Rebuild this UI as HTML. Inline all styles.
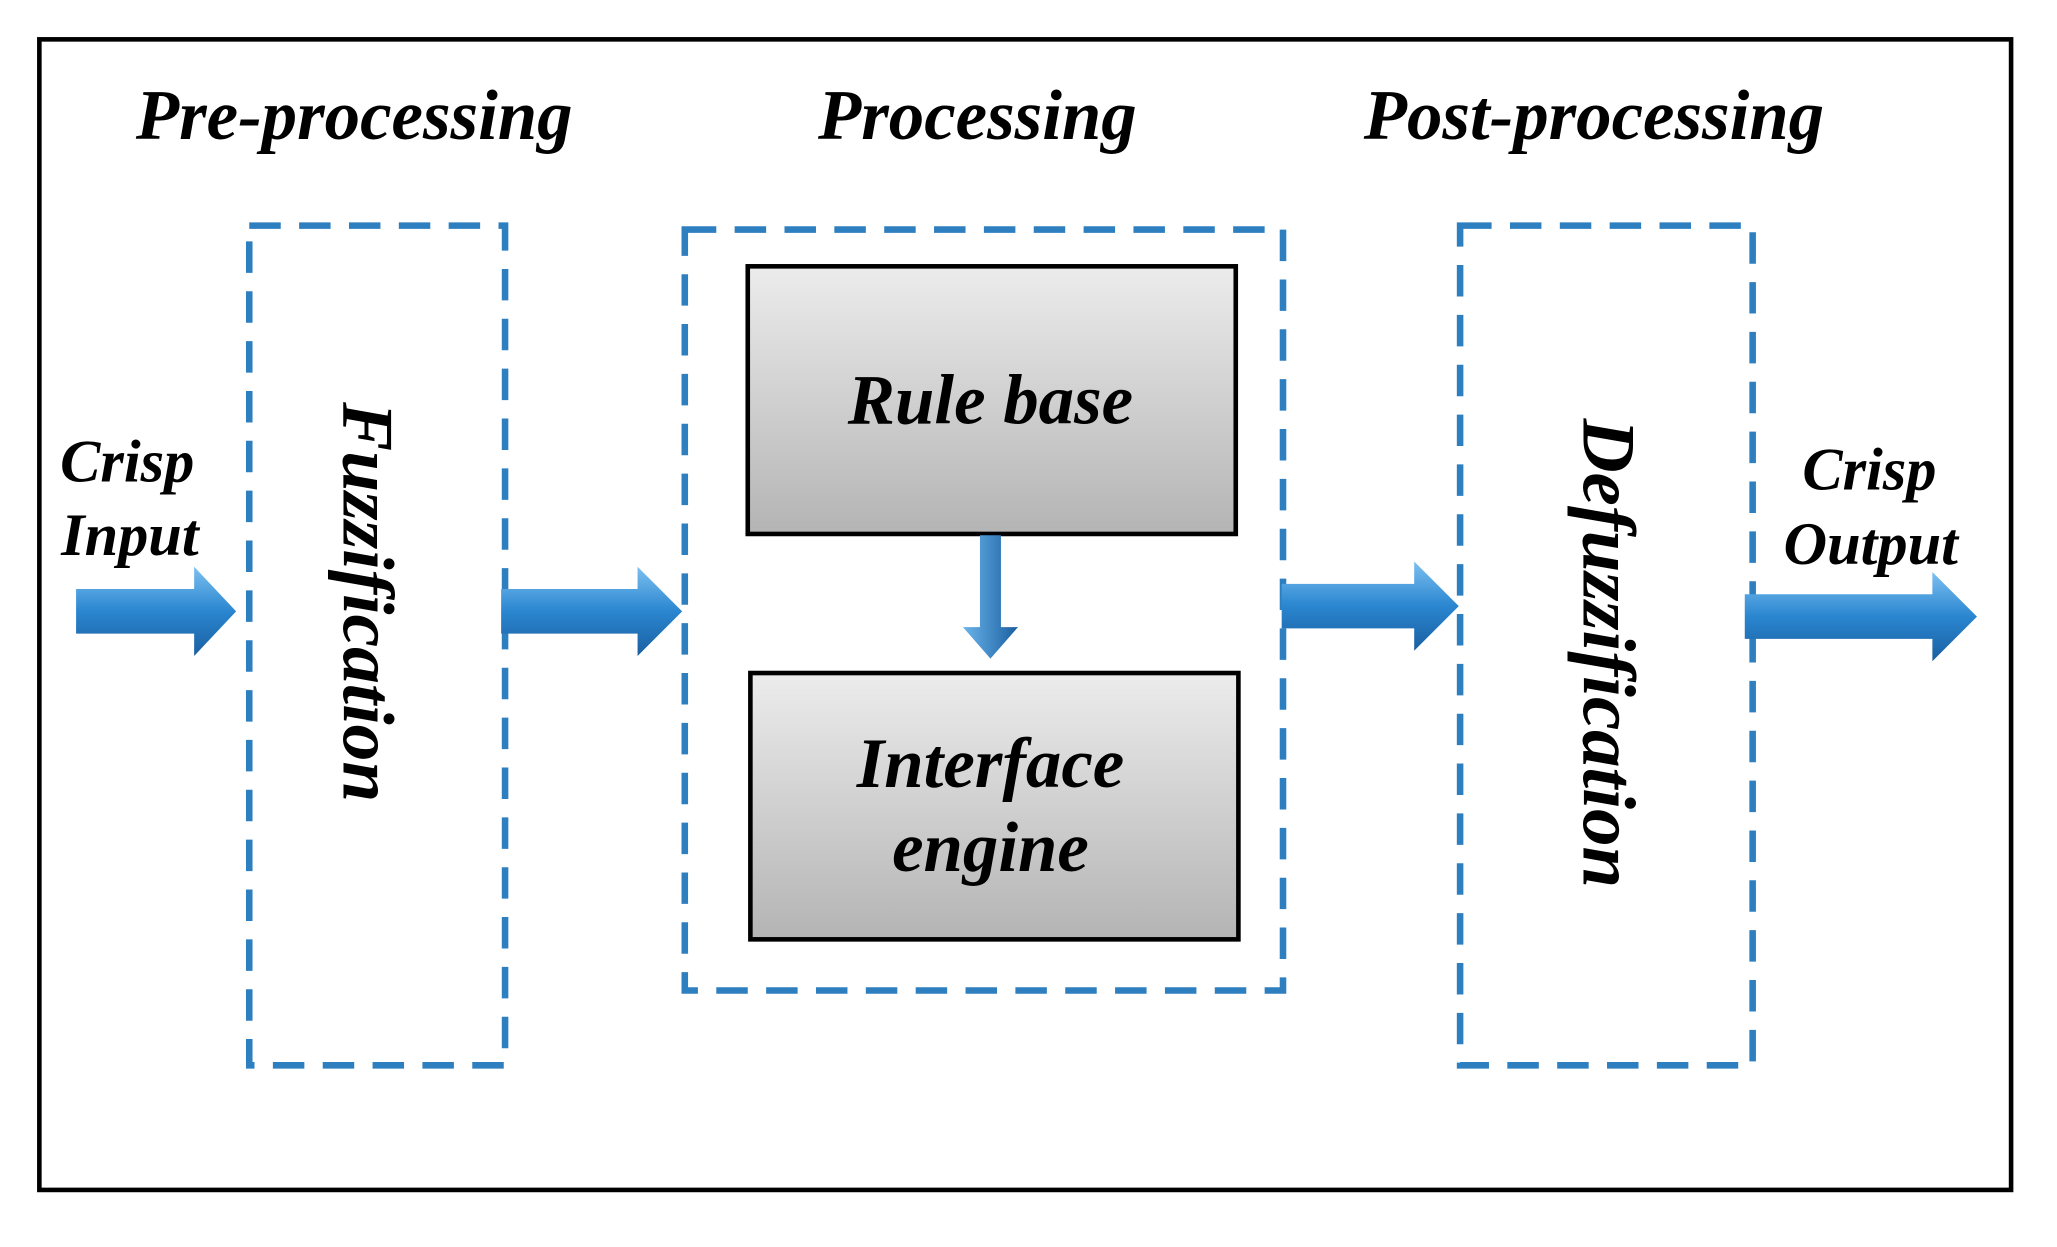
<!DOCTYPE html>
<html><head><style>html,body{margin:0;padding:0;background:#fff}svg{display:block}</style></head><body>
<svg width="2057" height="1247" viewBox="0 0 1568 950.5" preserveAspectRatio="none" xmlns="http://www.w3.org/2000/svg">
<defs>
<linearGradient id="g" x1="0" y1="0" x2="0" y2="1"><stop offset="0" stop-color="#ececec"/><stop offset="1" stop-color="#b4b4b4"/></linearGradient>
<linearGradient id="a" x1="0" y1="0" x2="0" y2="1"><stop offset="0" stop-color="#7cc0f0"/><stop offset="0.5" stop-color="#2a86d0"/><stop offset="1" stop-color="#1a5fa0"/></linearGradient>
<linearGradient id="av" x1="0" y1="0" x2="1" y2="0"><stop offset="0" stop-color="#6ab4ea"/><stop offset="1" stop-color="#1a5fa0"/></linearGradient>
</defs>
<rect x="30" y="30" width="1503" height="877" fill="#fff" stroke="#000" stroke-width="3.5"/>
<g font-family="Liberation Serif, serif" font-style="italic" font-weight="bold" fill="#000" text-anchor="middle">
<text x="270" y="106" font-size="54">Pre-processing</text>
<text x="745" y="106" font-size="54">Processing</text>
<text x="1215" y="106" font-size="54">Post-processing</text>
</g>
<g fill="none" stroke="#2e7fc0" stroke-width="5" stroke-dasharray="24,14">
<rect x="190" y="172" width="195" height="640"/>
<rect x="522" y="175" width="456" height="580"/>
<rect x="1113" y="172" width="223" height="640"/>
</g>
<rect x="570" y="203" width="372" height="204" fill="url(#g)" stroke="#000" stroke-width="3.5"/>
<rect x="572" y="513" width="372" height="203" fill="url(#g)" stroke="#000" stroke-width="3.5"/>
<g fill="url(#a)">
<polygon points="58,449 148,449 148,432 180,466 148,500 148,483 58,483"/>
<polygon points="382,449 486,449 486,432 520,466 486,500 486,483 382,483"/>
<polygon points="977,445 1078,445 1078,428 1112,462 1078,496 1078,479 977,479"/>
<polygon points="1330,453 1473,453 1473,436 1507,470 1473,504 1473,487 1330,487"/>
</g>
<polygon points="747,408 763,408 763,478 776,478 755,502 734,478 747,478" fill="url(#av)"/>
<g font-family="Liberation Serif, serif" font-style="italic" font-weight="bold" fill="#000" text-anchor="middle">
<text x="755" y="323" font-size="54">Rule base</text>
<text x="755" y="600" font-size="54">Interface</text>
<text x="755" y="664" font-size="54">engine</text>
<text x="97" y="367" font-size="46">Crisp</text>
<text x="99" y="423" font-size="46">Input</text>
<text x="1425" y="373" font-size="46">Crisp</text>
<text x="1426" y="430" font-size="46">Output</text>
<text transform="translate(262,459) rotate(90)" font-size="56">Fuzzification</text>
<text transform="translate(1207,498) rotate(90)" font-size="57">Defuzzification</text>
</g>
</svg>
</body></html>
